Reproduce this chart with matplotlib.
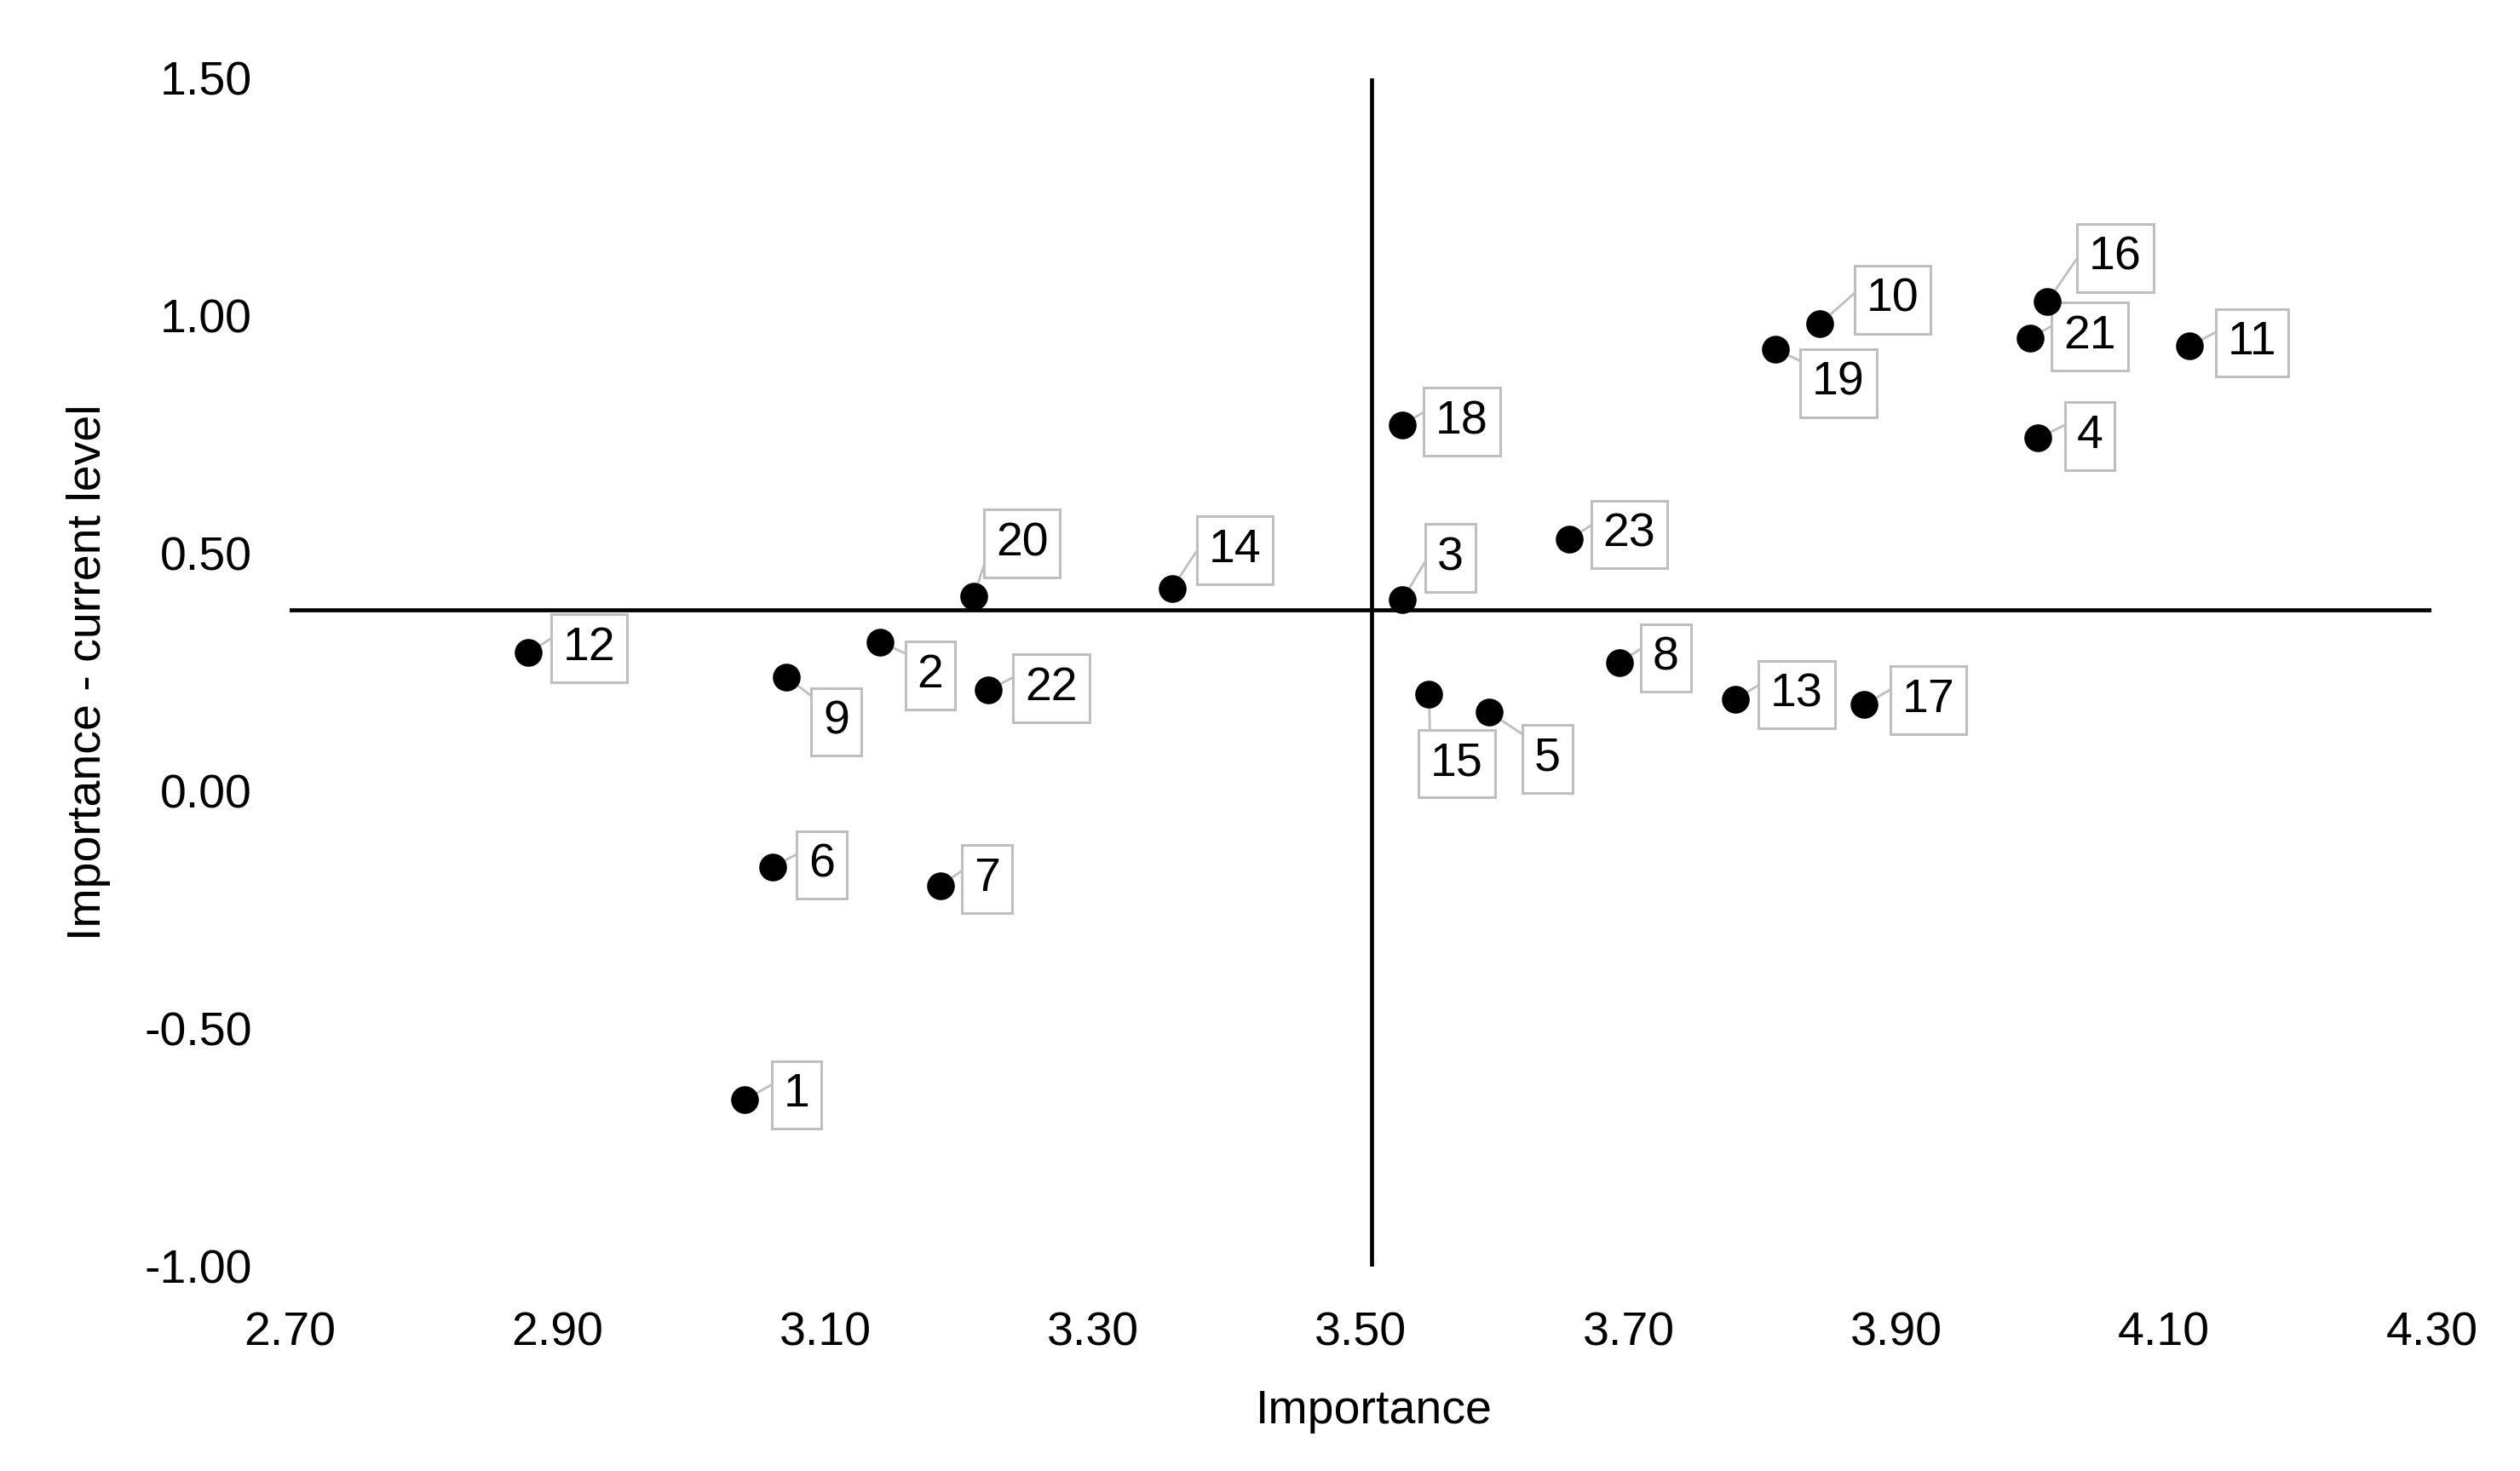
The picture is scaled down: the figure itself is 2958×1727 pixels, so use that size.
import numpy as np
import matplotlib.pyplot as plt
from matplotlib.ticker import FormatStrFormatter

plt.rcParams['font.family'] = ['Liberation Sans', 'DejaVu Sans']

# Datos: importancia y brecha (importancia - nivel actual) por ítem
etiquetas = [str(i) for i in range(1, 24)]
importancia = [3.040, 3.141, 3.531, 4.006, 3.596, 3.061, 3.186, 3.693, 3.071, 3.843,
               4.119, 2.878, 3.780, 3.359, 3.551, 4.013, 3.876, 3.531, 3.810, 3.211,
               4.000, 3.222, 3.656]
brecha = [-0.649, 0.314, 0.402, 0.743, 0.166, -0.159, -0.199, 0.270, 0.240, 0.983,
          0.936, 0.291, 0.193, 0.426, 0.203, 1.030, 0.182, 0.770, 0.929, 0.409,
          0.953, 0.213, 0.530]

# Cruce de los ejes (cuadrantes)
cruce_x = 3.508
cruce_y = 0.382

# Desplazamiento de cada etiqueta respecto a su punto (en puntos tipográficos)
desplazamientos = [(21.8, 2.0), (21.1, -14.3), (20.4, 17.7), (21.8, 0.7), (24.5, -19.7),
                   (20.4, 0.7), (19.7, 2.7), (19.7, 2.0), (21.1, -19.0), (30.6, 10.2),
                   (26.5, 1.4), (25.8, 2.0), (25.8, 2.0), (26.5, 16.3), (11.6, -29.2),
                   (28.6, 18.4), (27.2, 2.0), (25.2, 1.4), (26.5, -14.3), (20.4, 22.4),
                   (25.2, 0.7), (26.5, 0.7), (25.2, 2.0)]

fig = plt.figure(figsize=(14.79, 8.635), dpi=200)
ax = fig.add_axes([0.115, 0.139, 0.85, 0.808])

ax.set_xlim(2.70, 4.30)
ax.set_ylim(-1.00, 1.50)
ax.set_xticks(np.arange(2.70, 4.31, 0.20))
ax.set_yticks(np.arange(-1.00, 1.51, 0.50))
ax.xaxis.set_major_formatter(FormatStrFormatter('%.2f'))
ax.yaxis.set_major_formatter(FormatStrFormatter('%.2f'))
ax.tick_params(length=0, labelsize=20)
ax.tick_params(axis='x', pad=19)
ax.tick_params(axis='y', pad=16)
for s in ax.spines.values():
    s.set_visible(False)

# Líneas de cuadrante
ax.axvline(cruce_x, color='black', lw=1.7, zorder=2)
ax.axhline(cruce_y, color='black', lw=1.7, zorder=2)

ax.scatter(importancia, brecha, s=115, color='black', zorder=4)

for lab, x, y, (dx, dy) in zip(etiquetas, importancia, brecha, desplazamientos):
    ax.annotate(lab, xy=(x, y), xytext=(dx, dy), textcoords='offset points',
                ha='center', va='center', fontsize=20, zorder=3,
                bbox=dict(boxstyle='square,pad=0.25', fc='white', ec='#bfbfbf', lw=1.1),
                arrowprops=dict(arrowstyle='-', color='#bfbfbf', lw=1.0,
                                shrinkA=0, shrinkB=0, relpos=(0, 0.88)))

ax.set_xlabel('Importance', fontsize=20, labelpad=14)
ax.xaxis.label.set_x(0.506)
ax.set_ylabel('Importance - current level', fontsize=20, labelpad=14)

fig.savefig('out.png', dpi=200)
